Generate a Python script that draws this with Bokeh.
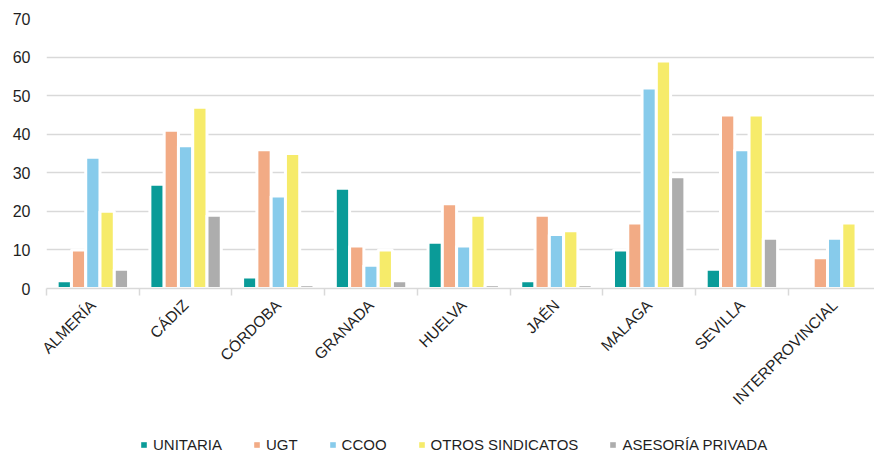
import numpy as np
from bokeh.plotting import figure
from bokeh.layouts import column
from bokeh.models import Range1d, FixedTicker, Legend, LegendItem, ColumnDataSource
from bokeh.embed import file_html
from bokeh.resources import INLINE

provincias = ["ALMERÍA", "CÁDIZ", "CÓRDOBA", "GRANADA", "HUELVA", "JAÉN", "MALAGA", "SEVILLA", "INTERPROVINCIAL"]
series = ["UNITARIA", "UGT", "CCOO", "OTROS SINDICATOS", "ASESORÍA PRIVADA"]
unitaria = [2, 27, 3, 26, 12, 2, 10, 5, 0]
ugt = [10, 41, 36, 11, 22, 19, 17, 45, 8]
ccoo = [34, 37, 24, 6, 11, 14, 52, 36, 13]
otros = [20, 47, 35, 10, 19, 15, 59, 45, 17]
asesoria = [5, 19, 1, 2, 1, 1, 29, 13, 0]
colores = ["#0A9B98", "#F2AB85", "#87CBEB", "#F6EB6A", "#ADADAD"]
y_ticks = [0, 10, 20, 30, 40, 50, 60, 70]

FONT = "Liberation Sans"
TEXT_COLOR = "#1F1F1F"
valores = [unitaria, ugt, ccoo, otros, asesoria]

p = figure(width=874, height=425, output_backend="svg", toolbar_location=None,
           x_range=Range1d(0, 8.93), y_range=Range1d(0, 70),
           min_border_left=46, min_border_right=0, min_border_top=18, min_border_bottom=137)
p.outline_line_color = None
p.background_fill_color = "white"
p.border_fill_color = "white"

centers = np.arange(len(provincias)) + 0.5
pitch = 0.154
sources = []
for k, (name, vals, col) in enumerate(zip(series, valores, colores)):
    src = ColumnDataSource(dict(x=centers + (k - 2) * pitch, top=vals))
    sources.append(src)
    p.vbar(x="x", top="top", width=pitch, bottom=0, source=src,
           fill_color=col, line_color="white", line_width=3)

# axes
xa = p.xaxis[0]
xa.ticker = FixedTicker(ticks=list(centers), minor_ticks=list(range(0, 9)))
xa.major_label_overrides = {float(c): n for c, n in zip(centers, provincias)}
xa.major_label_orientation = np.pi / 4
xa.major_tick_line_color = None
xa.major_tick_in = 0
xa.major_tick_out = 7
xa.minor_tick_in = 0
xa.minor_tick_out = 7
xa.minor_tick_line_color = "#D9D9D9"
xa.minor_tick_line_width = 1.5
xa.axis_line_color = "#D9D9D9"
xa.axis_line_width = 1.5
xa.major_label_text_font = FONT
xa.major_label_text_font_size = "15.5px"
xa.major_label_text_color = TEXT_COLOR
xa.major_label_standoff = 7

ya = p.yaxis[0]
ya.ticker = FixedTicker(ticks=y_ticks)
ya.axis_line_color = None
ya.major_tick_line_color = None
ya.minor_tick_line_color = None
ya.major_tick_out = 0
ya.major_tick_in = 0
ya.major_label_standoff = 16
ya.major_label_text_font = FONT
ya.major_label_text_font_size = "16px"
ya.major_label_text_color = TEXT_COLOR

p.xgrid.grid_line_color = None
p.ygrid.grid_line_color = "#D9D9D9"
p.ygrid.grid_line_width = 1.5

# legend strip below the chart (same series, drawn outside its visible y range)
lg = figure(width=874, height=28, output_backend="svg", toolbar_location=None,
            x_range=Range1d(0, 8.93), y_range=Range1d(1000, 1001),
            x_axis_location=None, y_axis_location=None,
            min_border_left=0, min_border_right=0, min_border_top=0, min_border_bottom=0)
lg.outline_line_color = None
lg.xgrid.grid_line_color = None
lg.ygrid.grid_line_color = None
items = []
for name, col, src in zip(series, colores, sources):
    r = lg.vbar(x="x", top="top", width=pitch, bottom=0, source=src,
                fill_color=col, line_color=None)
    items.append(LegendItem(label=name, renderers=[r]))
legend = Legend(items=items, orientation="horizontal", location=(94, 0),
                glyph_width=7, glyph_height=7, label_standoff=6, spacing=31,
                label_height=14, padding=0, margin=0,
                border_line_color=None, background_fill_alpha=0,
                label_text_font=FONT, label_text_font_size="15px", label_text_color=TEXT_COLOR)
lg.add_layout(legend, "center")

layout = column(p, lg, spacing=0)
open("out.html", "w").write(file_html(layout, INLINE))
